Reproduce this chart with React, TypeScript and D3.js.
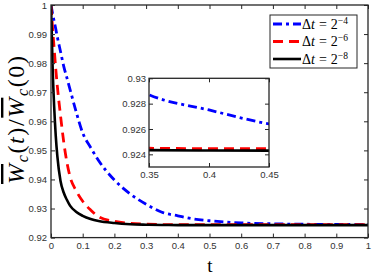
import { useEffect, useRef } from 'react';
import * as d3 from 'd3';

// time samples
const T = [0, 0.0025, 0.005, 0.01, 0.015, 0.02, 0.03, 0.04, 0.05, 0.06, 0.08, 0.1, 0.125, 0.15, 0.2, 0.25, 0.3, 0.35, 0.4, 0.45, 0.5, 0.6, 0.7, 0.8, 0.9, 1];

// dt = 2^-4
const BLUE = [1, 0.9985, 0.997, 0.9944, 0.9918, 0.989, 0.984, 0.979, 0.975, 0.971, 0.963, 0.956, 0.951, 0.9465, 0.9398, 0.935, 0.9315, 0.9287, 0.9275, 0.9264, 0.9258, 0.92505, 0.92475, 0.9246, 0.92452, 0.92448];
// dt = 2^-6
const RED = [1, 0.996, 0.992, 0.985, 0.978, 0.972, 0.962, 0.953, 0.946, 0.941, 0.936, 0.9325, 0.9295, 0.9272, 0.9256, 0.9249, 0.92462, 0.92448, 0.92445, 0.92444, 0.92444, 0.92444, 0.92444, 0.92444, 0.92444, 0.92444];
// dt = 2^-8
const BLACK = [1, 0.99, 0.979, 0.965, 0.955, 0.948, 0.9395, 0.9355, 0.933, 0.931, 0.9288, 0.9275, 0.9264, 0.9257, 0.925, 0.9246, 0.92443, 0.92433, 0.9243, 0.92429, 0.92429, 0.92429, 0.92429, 0.92429, 0.92429, 0.92429];

const SERIES_COLORS = ['#0000ff', '#ff0000', '#000000'];
const SERIES_DASH = ['9,4,3,4', '10,6', null];
const LEGEND_EXP = ['\u22124', '\u22126', '\u22128'];

const X_TICKS = [0, 0.1, 0.2, 0.3, 0.4, 0.5, 0.6, 0.7, 0.8, 0.9, 1];
const X_LABELS = ['0', '0.1', '0.2', '0.3', '0.4', '0.5', '0.6', '0.7', '0.8', '0.9', '1'];
const Y_TICKS = [0.92, 0.93, 0.94, 0.95, 0.96, 0.97, 0.98, 0.99, 1];
const Y_LABELS = ['0.92', '0.93', '0.94', '0.95', '0.96', '0.97', '0.98', '0.99', '1'];

const INSET_X_TICKS = [0.35, 0.4, 0.45];
const INSET_X_LABELS = ['0.35', '0.4', '0.45'];
const INSET_Y_TICKS = [0.924, 0.926, 0.928, 0.93];
const INSET_Y_LABELS = ['0.924', '0.926', '0.928', '0.93'];

export default function App() {
  const svgRef = useRef<SVGSVGElement>(null);

  useEffect(() => {
    const svg = d3.select(svgRef.current);
    svg.selectAll('*').remove();

    const series = [BLUE, RED, BLACK];
    const axisColor = '#262626';
    const tickFont = '"Liberation Sans", Arial, sans-serif';

    // boxed axes with inward ticks on all four sides
    function drawAxes(g, x, y, xt, xl, yt, yl, pad) {
      const [x0, x1] = x.range();
      const [y0, y1] = y.range();
      const tl = 4;
      const addAxis = (axis, tr, labels) => {
        const a = g.append('g').attr('transform', tr).call(axis);
        a.select('.domain').remove();
        a.selectAll('line').attr('stroke', axisColor).attr('stroke-width', 1);
        a.selectAll('text').attr('fill', '#333').attr('font-size', 9.5).attr('font-family', tickFont);
        if (!labels) a.selectAll('text').remove();
      };
      addAxis(d3.axisBottom(x).tickValues(xt).tickSize(-tl).tickPadding(pad).tickFormat((d, i) => xl[i]), `translate(0,${y0})`, true);
      addAxis(d3.axisTop(x).tickValues(xt).tickSize(-tl), `translate(0,${y1})`, false);
      addAxis(d3.axisLeft(y).tickValues(yt).tickSize(-tl).tickPadding(pad - 1).tickFormat((d, i) => yl[i]), `translate(${x0},0)`, true);
      addAxis(d3.axisRight(y).tickValues(yt).tickSize(-tl), `translate(${x1},0)`, false);
      g.append('rect')
        .attr('x', x0).attr('y', y1)
        .attr('width', x1 - x0).attr('height', y0 - y1)
        .attr('fill', 'none').attr('stroke', axisColor).attr('stroke-width', 1.3);
    }

    function drawLines(g, x, y, clipId) {
      const [x0, x1] = x.range();
      const [y0, y1] = y.range();
      g.append('clipPath').attr('id', clipId)
        .append('rect').attr('x', x0).attr('y', y1).attr('width', x1 - x0).attr('height', y0 - y1);
      const line = d3.line<number>()
        .x((d, i) => x(T[i]))
        .y(d => y(d))
        .curve(d3.curveMonotoneX);
      const lg = g.append('g').attr('clip-path', `url(#${clipId})`);
      series.forEach((s, k) => {
        lg.append('path')
          .attr('d', line(s))
          .attr('fill', 'none')
          .attr('stroke', SERIES_COLORS[k])
          .attr('stroke-width', k === 2 ? 2.6 : 2.8)
          .attr('stroke-dasharray', SERIES_DASH[k])
          .attr('stroke-linejoin', 'round');
      });
    }

    // main plot
    const x = d3.scaleLinear().domain([0, 1]).range([51, 368]);
    const y = d3.scaleLinear().domain([0.92, 1]).range([237.6, 5]);
    const main = svg.append('g');
    main.append('rect').attr('x', 51).attr('y', 5).attr('width', 317).attr('height', 232.6).attr('fill', '#fff');
    drawLines(main, x, y, 'clip-main');
    drawAxes(main, x, y, X_TICKS, X_LABELS, Y_TICKS, Y_LABELS, 5);

    // inset
    const ix = d3.scaleLinear().domain([0.35, 0.45]).range([149, 269]);
    const iy = d3.scaleLinear().domain([0.923, 0.93]).range([167, 78.3]);
    const inset = svg.append('g');
    inset.append('rect').attr('x', 149).attr('y', 78.3).attr('width', 120).attr('height', 88.7).attr('fill', '#fff');
    drawLines(inset, ix, iy, 'clip-inset');
    drawAxes(inset, ix, iy, INSET_X_TICKS, INSET_X_LABELS, INSET_Y_TICKS, INSET_Y_LABELS, 4);

    // legend
    const serif = '"Liberation Serif", "Times New Roman", serif';
    const leg = svg.append('g');
    leg.append('rect').attr('x', 270).attr('y', 15).attr('width', 87).attr('height', 53)
      .attr('fill', '#fff').attr('stroke', axisColor).attr('stroke-width', 1);
    series.forEach((s, k) => {
      const ry = 24 + k * 17.5;
      leg.append('line')
        .attr('x1', 273).attr('x2', 301).attr('y1', ry).attr('y2', ry)
        .attr('stroke', SERIES_COLORS[k])
        .attr('stroke-width', k === 2 ? 2.6 : 2.8)
        .attr('stroke-dasharray', SERIES_DASH[k]);
      const t = leg.append('text').attr('x', 302).attr('y', ry + 4.5)
        .attr('font-family', serif).attr('font-size', 14).attr('fill', '#000');
      t.append('tspan').text('\u0394');
      t.append('tspan').attr('font-style', 'italic').text('t');
      t.append('tspan').attr('dx', 4).text('=');
      t.append('tspan').attr('dx', 4).text('2');
      t.append('tspan').attr('dy', -5).attr('font-size', 9.5).text(LEGEND_EXP[k]);
    });

    // x label
    svg.append('text').attr('x', 210).attr('y', 272).attr('text-anchor', 'middle')
      .attr('font-family', serif).attr('font-size', 19).attr('fill', '#000').text('t');

    // y label
    const yl = svg.append('text')
      .attr('transform', 'translate(24,120) rotate(-90)')
      .attr('text-anchor', 'middle')
      .attr('font-family', serif).attr('font-size', 24).attr('fill', '#000')
      .attr('textLength', 128).attr('lengthAdjust', 'spacing');
    yl.append('tspan').attr('font-style', 'italic').style('text-decoration', 'overline').text('W');
    yl.append('tspan').attr('font-style', 'italic').attr('font-size', 16).attr('dy', 4).text('c');
    yl.append('tspan').attr('dy', -4).text('(');
    yl.append('tspan').attr('font-style', 'italic').text('t');
    yl.append('tspan').text(')/');
    yl.append('tspan').attr('font-style', 'italic').style('text-decoration', 'overline').text('W');
    yl.append('tspan').attr('font-style', 'italic').attr('font-size', 16).attr('dy', 4).text('c');
    yl.append('tspan').attr('dy', -4).text('(0)');
  }, []);

  return (
    <svg ref={svgRef} width={374} height={280}
      style={{ position: 'absolute', left: 0, top: 0, background: '#fff' }} />
  );
}
